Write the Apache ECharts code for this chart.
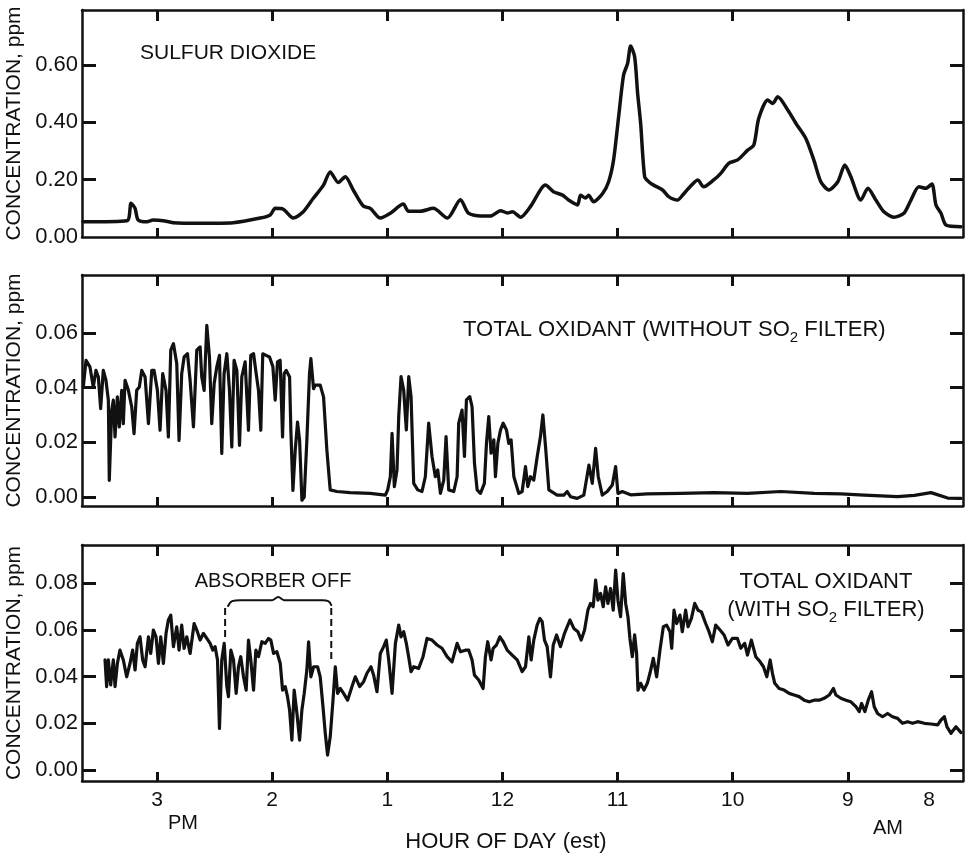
<!DOCTYPE html>
<html>
<head>
<meta charset="utf-8">
<script src="https://cdn.jsdelivr.net/npm/echarts@6/dist/echarts.min.js"></script>
<style>
  html, body { margin: 0; background: #fff; }
  #chart { width: 971px; height: 857px; }
</style>
</head>
<body>
<div id="chart"></div>
<script>
// x values are clock hours (15 = 3 PM, 8 = 8 AM), y values in ppm
const hourTicks = [15, 14, 13, 12, 11, 10, 9];
const hourLabels = [15, 14, 13, 12, 11, 10, 9, 8];

const so2Ticks = [0.2, 0.4, 0.6];
const so2Labels = [0, 0.2, 0.4, 0.6];
const noFilterTicks = [0, 0.02, 0.04, 0.06];
const noFilterRightTicks = [0.02, 0.04, 0.06];
const filterTicks = [0, 0.02, 0.04, 0.06, 0.08];
const filterRightTicks = [0, 0.04, 0.06, 0.08];

const so2 = [
  [15.643,0.053],[15.261,0.057],[15.226,0.118],[15.191,0.100],[15.165,0.060],[15.087,0.053],
  [15.035,0.059],[14.948,0.057],[14.861,0.050],[14.626,0.048],[14.339,0.050],[14.104,0.066],
  [14.017,0.077],[13.974,0.100],[13.904,0.097],[13.817,0.066],[13.730,0.088],[13.643,0.135],
  [13.556,0.180],[13.496,0.227],[13.426,0.190],[13.365,0.210],[13.296,0.164],[13.209,0.108],
  [13.148,0.100],[13.061,0.066],[12.974,0.083],[12.861,0.115],[12.817,0.090],[12.713,0.090],
  [12.600,0.100],[12.478,0.066],[12.365,0.130],[12.296,0.083],[12.191,0.073],[12.104,0.073],
  [12.017,0.092],[11.957,0.084],[11.913,0.088],[11.843,0.069],[11.757,0.106],[11.626,0.181],
  [11.557,0.158],[11.478,0.146],[11.426,0.129],[11.348,0.112],[11.322,0.146],[11.278,0.136],
  [11.252,0.146],[11.209,0.123],[11.130,0.152],[11.078,0.193],[11.035,0.269],[10.991,0.420],
  [10.948,0.565],[10.913,0.606],[10.887,0.666],[10.852,0.629],[10.826,0.501],[10.800,0.397],
  [10.765,0.210],[10.730,0.193],[10.687,0.181],[10.609,0.164],[10.557,0.141],[10.478,0.129],
  [10.435,0.146],[10.383,0.170],[10.304,0.199],[10.252,0.175],[10.165,0.199],[10.104,0.222],
  [10.035,0.257],[9.957,0.269],[9.870,0.303],[9.817,0.321],[9.774,0.414],[9.696,0.478],
  [9.652,0.466],[9.609,0.489],[9.522,0.443],[9.452,0.397],[9.365,0.344],[9.296,0.269],
  [9.235,0.193],[9.165,0.164],[9.087,0.193],[9.026,0.251],[8.974,0.210],[8.887,0.129],
  [8.826,0.170],[8.757,0.129],[8.687,0.088],[8.600,0.069],[8.513,0.083],[8.452,0.129],
  [8.383,0.175],[8.322,0.170],[8.270,0.185],[8.235,0.112],[8.191,0.083],[8.148,0.042],
  [8.017,0.036]
];

const oxidantNoFilter = [
  [15.641,0.0402],[15.617,0.0500],[15.583,0.0476],[15.554,0.0402],[15.531,0.0463],[15.510,0.0439],
  [15.490,0.0323],[15.467,0.0463],[15.444,0.0427],[15.423,0.0354],[15.415,0.0061],[15.394,0.0317],
  [15.380,0.0354],[15.365,0.0220],[15.345,0.0366],[15.328,0.0256],[15.307,0.0390],[15.293,0.0268],
  [15.278,0.0427],[15.249,0.0390],[15.220,0.0329],[15.200,0.0232],[15.177,0.0390],[15.154,0.0402],
  [15.133,0.0463],[15.104,0.0439],[15.075,0.0268],[15.046,0.0463],[15.026,0.0463],[14.997,0.0390],
  [14.974,0.0244],[14.951,0.0451],[14.922,0.0390],[14.902,0.0220],[14.881,0.0537],[14.858,0.0561],
  [14.829,0.0488],[14.809,0.0207],[14.786,0.0451],[14.765,0.0512],[14.736,0.0524],[14.713,0.0427],
  [14.684,0.0256],[14.655,0.0537],[14.626,0.0549],[14.612,0.0439],[14.591,0.0390],[14.568,0.0628],
  [14.545,0.0512],[14.525,0.0268],[14.504,0.0415],[14.481,0.0476],[14.458,0.0518],[14.438,0.0159],
  [14.418,0.0451],[14.394,0.0524],[14.371,0.0390],[14.351,0.0183],[14.331,0.0500],[14.307,0.0463],
  [14.284,0.0189],[14.264,0.0439],[14.235,0.0494],[14.206,0.0244],[14.186,0.0518],[14.162,0.0524],
  [14.139,0.0451],[14.119,0.0390],[14.099,0.0244],[14.082,0.0524],[14.053,0.0518],[14.023,0.0512],
  [13.994,0.0476],[13.974,0.0354],[13.954,0.0494],[13.931,0.0500],[13.910,0.0220],[13.896,0.0451],
  [13.878,0.0463],[13.849,0.0439],[13.838,0.0244],[13.820,0.0024],[13.800,0.0171],[13.780,0.0274],
  [13.762,0.0207],[13.742,-0.0012],[13.722,0.0000],[13.699,0.0207],[13.676,0.0451],[13.664,0.0506],
  [13.641,0.0396],[13.626,0.0409],[13.583,0.0409],[13.554,0.0366],[13.525,0.0171],[13.501,0.0049],
  [13.496,0.0026],[13.438,0.0020],[13.322,0.0016],[13.148,0.0013],[13.017,0.0007],[12.997,0.0026],
  [12.974,0.0074],[12.959,0.0233],[12.939,0.0038],[12.916,0.0099],[12.901,0.0294],[12.881,0.0440],
  [12.858,0.0391],[12.835,0.0245],[12.814,0.0440],[12.794,0.0367],[12.771,0.0050],[12.736,0.0026],
  [12.699,0.0020],[12.670,0.0074],[12.641,0.0270],[12.612,0.0148],[12.583,0.0074],[12.562,0.0099],
  [12.539,0.0013],[12.510,0.0062],[12.490,0.0221],[12.467,0.0026],[12.423,0.0020],[12.394,0.0074],
  [12.380,0.0270],[12.351,0.0318],[12.330,0.0148],[12.313,0.0355],[12.284,0.0367],[12.264,0.0330],
  [12.243,0.0123],[12.220,0.0026],[12.191,0.0013],[12.157,0.0050],[12.139,0.0196],[12.119,0.0294],
  [12.099,0.0160],[12.075,0.0209],[12.061,0.0074],[12.040,0.0196],[12.017,0.0245],[11.994,0.0270],
  [11.965,0.0245],[11.945,0.0196],[11.925,0.0209],[11.901,0.0074],[11.858,0.0013],[11.829,0.0020],
  [11.800,0.0111],[11.780,0.0038],[11.757,0.0074],[11.728,0.0062],[11.698,0.0148],[11.670,0.0221],
  [11.649,0.0300],[11.626,0.0184],[11.597,0.0026],[11.525,0.0007],[11.467,0.0007],[11.438,0.0020],
  [11.409,0.0001],[11.351,-0.0005],[11.293,0.0007],[11.249,0.0117],[11.220,0.0050],[11.191,0.0178],
  [11.168,0.0074],[11.133,0.0007],[11.090,0.0020],[11.046,0.0044],[11.017,0.0111],[10.997,0.0013],
  [10.959,0.0020],[10.916,0.0013],[10.887,0.0008],[10.742,0.0011],[10.452,0.0013],[10.162,0.0016],
  [9.873,0.0013],[9.583,0.0020],[9.293,0.0013],[9.061,0.0011],[8.858,0.0007],[8.568,0.0001],
  [8.423,0.0006],[8.278,0.0016],[8.133,-0.0004],[8.017,-0.0005]
];

const oxidantFilter = [
  [15.452,0.0471],[15.438,0.0357],[15.423,0.0471],[15.403,0.0364],[15.380,0.0471],[15.365,0.0357],
  [15.345,0.0456],[15.322,0.0513],[15.293,0.0471],[15.264,0.0399],[15.235,0.0456],[15.212,0.0513],
  [15.191,0.0428],[15.171,0.0542],[15.148,0.0570],[15.125,0.0471],[15.104,0.0442],[15.075,0.0570],
  [15.055,0.0499],[15.032,0.0599],[15.009,0.0570],[14.988,0.0456],[14.968,0.0570],[14.945,0.0456],
  [14.922,0.0585],[14.902,0.0642],[14.881,0.0663],[14.858,0.0528],[14.829,0.0613],[14.809,0.0513],
  [14.786,0.0620],[14.765,0.0520],[14.742,0.0570],[14.713,0.0499],[14.678,0.0627],[14.655,0.0599],
  [14.626,0.0556],[14.597,0.0585],[14.568,0.0563],[14.539,0.0542],[14.516,0.0513],[14.496,0.0528],
  [14.475,0.0471],[14.458,0.0178],[14.438,0.0471],[14.417,0.0542],[14.394,0.0357],[14.380,0.0314],
  [14.359,0.0513],[14.336,0.0471],[14.313,0.0328],[14.293,0.0442],[14.273,0.0485],[14.249,0.0399],
  [14.226,0.0342],[14.206,0.0556],[14.186,0.0471],[14.162,0.0342],[14.142,0.0513],[14.119,0.0485],
  [14.090,0.0549],[14.061,0.0542],[14.032,0.0563],[14.012,0.0556],[13.988,0.0499],[13.959,0.0506],
  [13.930,0.0456],[13.910,0.0342],[13.887,0.0357],[13.867,0.0314],[13.849,0.0257],[13.829,0.0128],
  [13.809,0.0342],[13.785,0.0242],[13.762,0.0128],[13.742,0.0257],[13.722,0.0328],[13.699,0.0428],
  [13.684,0.0549],[13.664,0.0399],[13.640,0.0442],[13.606,0.0442],[13.583,0.0399],[13.559,0.0271],
  [13.539,0.0157],[13.519,0.0064],[13.496,0.0143],[13.472,0.0299],[13.452,0.0442],[13.432,0.0328],
  [13.409,0.0349],[13.380,0.0328],[13.345,0.0299],[13.307,0.0357],[13.278,0.0399],[13.240,0.0357],
  [13.206,0.0378],[13.177,0.0414],[13.142,0.0442],[13.119,0.0406],[13.090,0.0335],[13.061,0.0499],
  [13.032,0.0528],[13.009,0.0556],[12.988,0.0471],[12.959,0.0328],[12.930,0.0542],[12.901,0.0620],
  [12.881,0.0570],[12.858,0.0592],[12.835,0.0542],[12.815,0.0485],[12.794,0.0421],[12.771,0.0442],
  [12.728,0.0435],[12.690,0.0485],[12.655,0.0563],[12.612,0.0556],[12.568,0.0535],[12.525,0.0521],
  [12.481,0.0485],[12.438,0.0463],[12.394,0.0542],[12.365,0.0506],[12.322,0.0513],[12.293,0.0513],
  [12.264,0.0471],[12.243,0.0406],[12.206,0.0385],[12.168,0.0349],[12.148,0.0485],[12.128,0.0549],
  [12.099,0.0471],[12.081,0.0521],[12.052,0.0535],[12.023,0.0570],[11.994,0.0549],[11.959,0.0513],
  [11.916,0.0492],[11.872,0.0471],[11.829,0.0421],[11.800,0.0442],[11.771,0.0570],[11.751,0.0471],
  [11.728,0.0556],[11.699,0.0620],[11.675,0.0649],[11.655,0.0635],[11.635,0.0556],[11.612,0.0528],
  [11.583,0.0399],[11.559,0.0535],[11.530,0.0578],[11.496,0.0528],[11.461,0.0585],[11.414,0.0642],
  [11.380,0.0606],[11.345,0.0592],[11.316,0.0556],[11.287,0.0599],[11.258,0.0684],[11.235,0.0713],
  [11.212,0.0699],[11.191,0.0813],[11.171,0.0727],[11.148,0.0756],[11.125,0.0699],[11.104,0.0784],
  [11.084,0.0713],[11.061,0.0777],[11.038,0.0684],[11.017,0.0856],[10.997,0.0727],[10.974,0.0656],
  [10.951,0.0841],[10.930,0.0713],[10.910,0.0656],[10.893,0.0563],[10.872,0.0485],[10.852,0.0578],
  [10.835,0.0499],[10.823,0.0342],[10.800,0.0371],[10.771,0.0342],[10.742,0.0371],[10.719,0.0414],
  [10.690,0.0478],[10.661,0.0399],[10.632,0.0513],[10.603,0.0613],[10.574,0.0620],[10.545,0.0592],
  [10.530,0.0521],[10.510,0.0684],[10.487,0.0627],[10.458,0.0663],[10.438,0.0592],[10.409,0.0684],
  [10.388,0.0613],[10.359,0.0649],[10.330,0.0713],[10.301,0.0684],[10.272,0.0677],[10.235,0.0627],
  [10.206,0.0592],[10.177,0.0549],[10.148,0.0620],[10.110,0.0599],[10.075,0.0578],[10.041,0.0535],
  [10.003,0.0563],[9.959,0.0563],[9.930,0.0521],[9.896,0.0542],[9.872,0.0492],[9.838,0.0556],
  [9.800,0.0485],[9.762,0.0463],[9.733,0.0442],[9.704,0.0399],[9.675,0.0471],[9.655,0.0414],
  [9.635,0.0371],[9.597,0.0349],[9.554,0.0342],[9.510,0.0328],[9.467,0.0321],[9.423,0.0314],
  [9.380,0.0299],[9.336,0.0292],[9.293,0.0299],[9.249,0.0299],[9.206,0.0307],[9.162,0.0321],
  [9.125,0.0349],[9.104,0.0321],[9.061,0.0307],[9.017,0.0299],[8.974,0.0292],[8.930,0.0271],
  [8.901,0.0250],[8.881,0.0285],[8.852,0.0250],[8.823,0.0299],[8.794,0.0335],[8.771,0.0271],
  [8.742,0.0242],[8.699,0.0228],[8.655,0.0242],[8.612,0.0228],[8.568,0.0221],[8.525,0.0200],
  [8.481,0.0207],[8.438,0.0200],[8.394,0.0207],[8.336,0.0200],[8.278,0.0197],[8.220,0.0193],
  [8.191,0.0214],[8.162,0.0228],[8.139,0.0185],[8.104,0.0157],[8.061,0.0185],[8.017,0.0160]
];

// "absorber off" bracket and its two dashed limit lines
const absorberBrace = [
  [14.383,0.0702],[14.348,0.0723],[14.278,0.0727],[14.000,0.0727],[13.948,0.0740],
  [13.896,0.0727],[13.565,0.0727],[13.513,0.0723],[13.487,0.0706]
];
const absorberStart = [[14.409,0.0693],[14.409,0.0569]];
const absorberEnd = [[13.487,0.0693],[13.487,0.0462]];

const font = "'Liberation Sans', Arial, sans-serif";
const ink = '#111';

const chart = echarts.init(document.getElementById('chart'), null, { renderer: 'canvas' });

const gridBoxes = [
  { left: 82, right: 8, top: 10, height: 227 },
  { left: 82, right: 8, top: 275, height: 231 },
  { left: 82, right: 8, top: 545, height: 236 }
];
const yRanges = [
  { min: 0, max: 0.792, ticks: so2Ticks, labels: so2Labels, right: so2Ticks },
  { min: -0.0033, max: 0.0812, ticks: noFilterTicks, labels: noFilterTicks, right: noFilterRightTicks },
  { min: -0.0047, max: 0.0963, ticks: filterTicks, labels: filterTicks, right: filterRightTicks }
];

const frameLine = { show: true, onZero: false, lineStyle: { color: ink, width: 2.5 } };

const xAxes = [];
const yAxes = [];
gridBoxes.forEach((g, i) => {
  const isLast = i === gridBoxes.length - 1;
  xAxes.push({
    type: 'value', gridIndex: i, position: 'bottom', inverse: true,
    min: 8, max: 15.652,
    axisLine: frameLine, splitLine: { show: false },
    axisTick: { inside: true, length: 9, lineStyle: { color: ink, width: 3 }, customValues: hourTicks },
    axisLabel: {
      show: isLast, customValues: hourLabels, margin: 9,
      color: ink, fontFamily: font, fontSize: 21,
      formatter: v => v === 8 ? '{edge|8}' : String(v > 12 ? v - 12 : v),
      rich: { edge: { fontFamily: font, fontSize: 21, color: ink, padding: [0, 68, 0, 0] } }
    }
  });
  xAxes.push({
    type: 'value', gridIndex: i, position: 'top', inverse: true,
    min: 8, max: 15.652,
    axisLine: frameLine, splitLine: { show: false },
    axisTick: { inside: true, length: 11, lineStyle: { color: ink, width: 3 }, customValues: hourTicks },
    axisLabel: { show: false }
  });
  const r = yRanges[i];
  yAxes.push({
    type: 'value', gridIndex: i, position: 'left', min: r.min, max: r.max,
    name: 'CONCENTRATION, ppm', nameLocation: 'middle', nameGap: 51, nameRotate: 90,
    nameTextStyle: { color: ink, fontFamily: font, fontSize: 21 },
    axisLine: frameLine, splitLine: { show: false },
    axisTick: { inside: true, length: 14, lineStyle: { color: ink, width: 3 }, customValues: r.ticks },
    axisLabel: {
      customValues: r.labels, margin: 4, color: ink, fontFamily: font, fontSize: 22,
      formatter: v => v.toFixed(2)
    }
  });
  yAxes.push({
    type: 'value', gridIndex: i, position: 'right', min: r.min, max: r.max,
    axisLine: frameLine, splitLine: { show: false },
    axisTick: { inside: true, length: 13, lineStyle: { color: ink, width: 3 }, customValues: r.right },
    axisLabel: { show: false }
  });
});

function trace(data, i, width, smooth) {
  return {
    type: 'line', data, xAxisIndex: i * 2, yAxisIndex: i * 2,
    showSymbol: false, smooth: smooth || false, silent: true,
    lineStyle: { color: ink, width: width, join: 'round', cap: 'round' }
  };
}

function text(str, x, y, align, size, rich) {
  return {
    type: 'text', x, y, silent: true,
    style: {
      text: str, fill: ink, fontFamily: font, fontSize: size,
      align, verticalAlign: 'middle', rich
    }
  };
}
const subRich = { sub: { fontFamily: font, fontSize: 15, fill: ink, padding: [15, 0, 0, 0] } };

chart.setOption({
  animation: false,
  backgroundColor: '#fff',
  grid: gridBoxes.map(g => Object.assign({ outerBoundsMode: 'none' }, g)),
  xAxis: xAxes,
  yAxis: yAxes,
  series: [
    trace(so2, 0, 3.5, 0.25),
    trace(oxidantNoFilter, 1, 3.2),
    trace(oxidantFilter, 2, 3.2),
    trace(absorberBrace, 2, 2, 0.4),
    Object.assign(trace(absorberStart, 2, 2), { lineStyle: { color: ink, width: 2, type: [7, 4] } }),
    Object.assign(trace(absorberEnd, 2, 2), { lineStyle: { color: ink, width: 2, type: [7, 4] } })
  ],
  graphic: [
    text('SULFUR DIOXIDE', 140, 53, 'left', 21),
    text('TOTAL OXIDANT (WITHOUT SO{sub|2} FILTER)', 463, 330, 'left', 22, subRich),
    text('ABSORBER OFF', 273, 581, 'center', 20),
    text('TOTAL OXIDANT', 826, 582, 'center', 22),
    text('(WITH SO{sub|2} FILTER)', 826, 610, 'center', 22, subRich),
    text('PM', 183, 823, 'center', 20),
    text('AM', 888, 828, 'center', 20),
    text('HOUR OF DAY (est)', 506, 842, 'center', 22)
  ]
});
</script>
</body>
</html>
